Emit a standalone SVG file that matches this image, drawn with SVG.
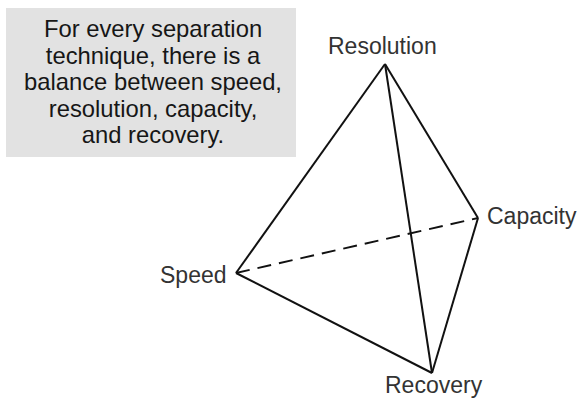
<svg xmlns="http://www.w3.org/2000/svg" width="581" height="398" viewBox="0 0 581 398">
<style>
.lbl{font-family:"Liberation Sans",Arial,sans-serif;font-size:23px;fill:#333}
.box{font-family:"Liberation Sans",Arial,sans-serif;font-size:23.8px;fill:#161616;text-anchor:middle}
.e{stroke:#111;stroke-width:2;fill:none;stroke-linejoin:miter}
</style>
<rect width="581" height="398" fill="#ffffff"/>
<g id="note">
<rect x="6" y="8" width="290" height="149" fill="#e2e2e2"/>
<text class="box" x="153" y="37">For every separation</text>
<text class="box" x="153" y="63.5">technique, there is a</text>
<text class="box" x="153" y="90">balance between speed,</text>
<text class="box" x="153" y="116.5">resolution, capacity,</text>
<text class="box" x="153" y="143">and recovery.</text>
</g>
<g id="connectors">
<line class="e" x1="385" y1="64" x2="236" y2="273"/>
<line class="e" x1="385" y1="64" x2="478" y2="218"/>
<line class="e" x1="385" y1="64" x2="432" y2="373"/>
<line class="e" x1="236" y1="273" x2="432" y2="373"/>
<line class="e" x1="478" y1="218" x2="432" y2="373"/>
<line class="e" x1="236" y1="273" x2="478" y2="218" stroke-dasharray="14,8"/>
</g>
<g id="resolution"><text class="lbl" x="328" y="54">Resolution</text></g>
<g id="capacity"><text class="lbl" x="487" y="224">Capacity</text></g>
<g id="speed"><text class="lbl" x="160" y="283">Speed</text></g>
<g id="recovery"><text class="lbl" x="385" y="393">Recovery</text></g>
</svg>
